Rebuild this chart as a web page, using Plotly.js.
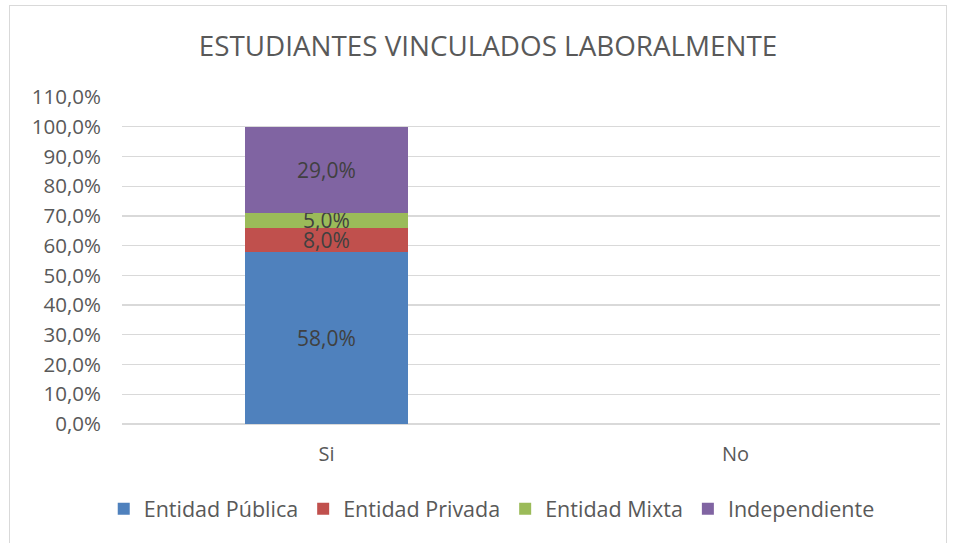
<!DOCTYPE html>
<html><head><meta charset="utf-8">
<script src="https://cdn.plot.ly/plotly-3.0.1.min.js"></script>
<style>
html,body{margin:0;padding:0;background:#fff;}
#frame{position:absolute;left:9px;top:5px;width:938px;height:540px;border:1px solid #d9d9d9;box-sizing:border-box;}
#chart{position:absolute;left:0;top:0;width:955px;height:543px;}
</style></head>
<body>
<div id="frame"></div>
<div id="chart"></div>
<script>
const categories = ["Si", "No"];
const seriesNames = ["Entidad Pública", "Entidad Privada", "Entidad Mixta", "Independiente"];
const publica = [58.0, null];
const privada = [8.0, null];
const mixta = [5.0, null];
const independiente = [29.0, null];
const colors = ["#4F81BD", "#C0504D", "#9BBB59", "#8064A2"];
const tickVals = [0,10,20,30,40,50,60,70,80,90,100,110];
const tickText = tickVals.map(v => v.toFixed(1).replace(".", ",") + "%");

const allSeries = [publica, privada, mixta, independiente];
const fontFam = "Open Sans, Liberation Sans, sans-serif";
const traces = allSeries.map((vals, i) => ({
  type: "bar",
  name: seriesNames[i],
  x: categories,
  y: vals,
  marker: {color: colors[i], line: {width: 0}},
  texttemplate: "%{y:.1f}%",
  textposition: "inside",
  insidetextanchor: "middle",
  textangle: 0,
  constraintext: "none",
  textfont: {family: fontFam, size: 21, color: "#404040"},
  hoverinfo: "skip"
}));

const layout = {
  width: 955, height: 543,
  paper_bgcolor: "rgba(0,0,0,0)",
  plot_bgcolor: "rgba(0,0,0,0)",
  barmode: "stack",
  bargap: 0.6,
  separators: ",.",
  margin: {l: 122, r: 15, t: 97, b: 119},
  title: {text: "ESTUDIANTES VINCULADOS LABORALMENTE", x: 0.511, xanchor: "center", y: 0.915, yanchor: "middle",
          font: {family: fontFam, size: 27.8, color: "#595959"}},
  xaxis: {type: "category", showgrid: false, zeroline: false, showline: false, ticks: "", ticklabelstandoff: 16,
          tickfont: {family: fontFam, size: 20, color: "#595959"}},
  yaxis: {range: [0, 110], tickmode: "array", tickvals: tickVals, ticktext: tickText,
          showgrid: true, gridcolor: "#d9d9d9", gridwidth: 1.3, zeroline: true, zerolinecolor: "#d9d9d9", zerolinewidth: 1.3,
          showline: false, ticks: "", ticklabelstandoff: 20,
          tickfont: {family: fontFam, size: 20.5, color: "#595959"}},
  legend: {orientation: "h", x: 0.452, xanchor: "center", y: 0.063, yref: "container", yanchor: "middle",
           traceorder: "normal", font: {family: fontFam, size: 21.5, color: "#595959"}, itemwidth: 30},
  showlegend: true
};

Plotly.newPlot("chart", traces, layout, {displayModeBar: false, staticPlot: true});
</script>
</body></html>
